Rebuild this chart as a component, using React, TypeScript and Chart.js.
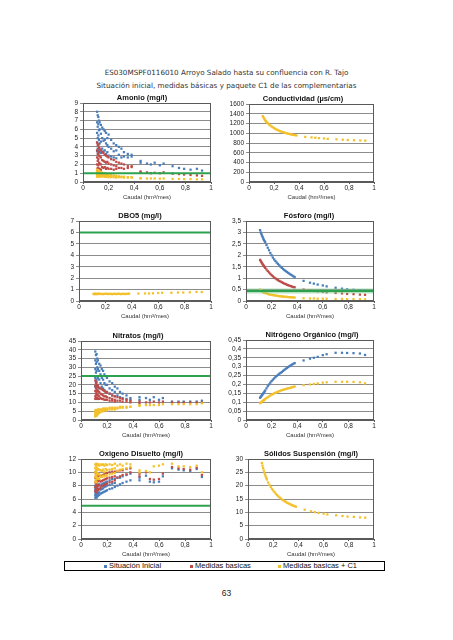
import React, { useEffect, useRef } from "react";
import { Chart, registerables } from "chart.js";

Chart.register(...registerables);

// ---------- texts ----------
const tituloLinea1 = "ES030MSPF0116010 Arroyo Salado hasta su confluencia con R. Tajo";
const tituloLinea2 = "Situación inicial, medidas básicas y paquete C1 de las complementarias";
const seriesNombres = ["Situación Inicial", "Medidas basicas", "Medidas basicas + C1"];
const ejeX = "Caudal (hm³/mes)";
const numeroPagina = "63";

// ---------- colours ----------
const AZUL = "#4A7EBB";
const ROJO = "#BE4B48";
const AMARILLO = "#F3C12C";
const VERDE = "#2CA24E";

// ---------- ticks ----------
const caudalTicks = [0, 0.2, 0.4, 0.6, 0.8, 1];
const amonioTicks = [0, 1, 2, 3, 4, 5, 6, 7, 8, 9];
const conductividadTicks = [0, 200, 400, 600, 800, 1000, 1200, 1400, 1600];
const dbo5Ticks = [0, 1, 2, 3, 4, 5, 6, 7];
const fosforoTicks = [0, 0.5, 1, 1.5, 2, 2.5, 3, 3.5];
const nitratosTicks = [0, 5, 10, 15, 20, 25, 30, 35, 40, 45];
const nitrogenoTicks = [0, 0.05, 0.1, 0.15, 0.2, 0.25, 0.3, 0.35, 0.4, 0.45];
const oxigenoTicks = [0, 2, 4, 6, 8, 10, 12];
const solidosTicks = [0, 5, 10, 15, 20, 25, 30];

// ---------- limits (green lines) ----------
const amonioLimite = 1;
const dbo5Limite = 6;
const fosforoLimite = 0.44;
const nitratosLimite = 25;
const oxigenoLimite = 5;

// ---------- caudal values ----------
const caudalCurva = [
  0.11, 0.115, 0.12, 0.125, 0.13, 0.135, 0.14, 0.145, 0.15, 0.16,
  0.17, 0.18, 0.19, 0.2, 0.21, 0.22, 0.23, 0.24, 0.25, 0.26,
  0.27, 0.28, 0.29, 0.3, 0.31, 0.32, 0.33, 0.34, 0.35, 0.36,
  0.37, 0.38,
  0.45, 0.5, 0.53, 0.56, 0.6, 0.63, 0.7, 0.75, 0.79, 0.84, 0.89, 0.93,
];

const caudalNube = [
  0.11, 0.11, 0.11, 0.11, 0.11,
  0.115, 0.115, 0.115, 0.115,
  0.12, 0.12, 0.12, 0.12, 0.12,
  0.125, 0.125, 0.125, 0.125,
  0.13, 0.13, 0.13, 0.13,
  0.14, 0.14, 0.14, 0.14,
  0.15, 0.15, 0.15,
  0.16, 0.16, 0.16,
  0.17, 0.17, 0.17,
  0.18, 0.18, 0.18,
  0.19, 0.19, 0.19,
  0.2, 0.2, 0.2,
  0.22, 0.22, 0.22,
  0.24, 0.24, 0.24,
  0.26, 0.26, 0.26,
  0.28, 0.28,
  0.3, 0.3,
  0.32, 0.32,
  0.35, 0.35,
  0.38, 0.38,
  0.45, 0.45, 0.5, 0.53, 0.56, 0.6, 0.63, 0.7, 0.75, 0.79, 0.84, 0.89, 0.93,
];

// ---------- Amonio ----------
const amonioSituacion = [
  8.0, 6.8, 5.6, 4.5, 3.5,
  7.6, 6.3, 5.0, 3.8,
  7.4, 6.6, 5.3, 4.2, 3.2,
  7.0, 5.9, 4.8, 3.6,
  6.8, 6.0, 4.4, 3.4,
  6.5, 5.5, 4.6, 3.3,
  6.2, 5.0, 3.8,
  6.0, 4.7, 3.5,
  5.8, 4.8, 3.6,
  5.6, 4.4, 3.2,
  5.0, 4.2, 3.4,
  5.4, 4.0, 3.0,
  4.8, 3.8, 2.9,
  4.4, 3.5, 2.8,
  4.2, 3.6, 2.7,
  4.0, 3.1,
  3.8, 2.8,
  3.4, 2.9,
  3.2, 2.8,
  3.1, 2.9,
  2.4, 2.2, 2.1, 2.0, 2.2, 1.9, 2.1, 1.8, 1.6, 1.5, 1.4, 1.5, 1.3,
];
const amonioMedidas = [
  4.5, 3.6, 2.8, 2.0, 1.4,
  4.2, 3.2, 2.4, 1.6,
  4.3, 3.4, 2.6, 1.9, 1.3,
  3.9, 3.0, 2.2, 1.5,
  3.8, 2.9, 2.1, 1.5,
  3.6, 2.8, 2.0, 1.4,
  3.4, 2.5, 1.7,
  3.3, 2.4, 1.6,
  3.1, 2.3, 1.7,
  3.0, 2.2, 1.5,
  2.9, 2.3, 1.6,
  2.8, 2.1, 1.5,
  2.6, 2.0, 1.5,
  2.5, 1.9, 1.4,
  2.3, 1.8, 1.5,
  2.2, 1.6,
  2.1, 1.6,
  2.0, 1.5,
  1.8, 1.6,
  1.8, 1.7,
  1.2, 1.1, 1.1, 1.0, 1.05, 1.0, 1.1, 0.95, 0.9, 0.85, 0.8, 0.75, 0.7,
];
const amonioC1 = [
  1.4, 1.2, 1.0, 0.8, 0.6,
  1.3, 1.1, 0.9, 0.7,
  1.35, 1.15, 0.95, 0.75, 0.6,
  1.25, 1.05, 0.85, 0.65,
  1.2, 1.0, 0.8, 0.65,
  1.1, 0.95, 0.8, 0.6,
  1.05, 0.85, 0.65,
  1.0, 0.8, 0.65,
  0.95, 0.8, 0.6,
  0.9, 0.75, 0.6,
  0.9, 0.7, 0.6,
  0.85, 0.7, 0.55,
  0.8, 0.65, 0.55,
  0.75, 0.65, 0.55,
  0.7, 0.6, 0.5,
  0.65, 0.55,
  0.6, 0.55,
  0.6, 0.5,
  0.55, 0.5,
  0.55, 0.5,
  0.45, 0.4, 0.4, 0.4, 0.4, 0.38, 0.4, 0.35, 0.35, 0.33, 0.33, 0.3, 0.3,
];

// ---------- Conductividad ----------
const conductividadC1 = [
  1350, 1330, 1305, 1285, 1265, 1248, 1232, 1218, 1205, 1180,
  1160, 1140, 1122, 1105, 1090, 1077, 1065, 1053, 1042, 1032,
  1023, 1015, 1007, 1000, 993, 987, 981, 975, 970, 965,
  960, 955,
  925, 915, 908, 900, 893, 885, 875, 868, 862, 857, 852, 848,
];

// ---------- DBO5 ----------
const dbo5C1 = [
  0.62, 0.6, 0.64, 0.61, 0.63, 0.6, 0.62, 0.64, 0.61, 0.63,
  0.62, 0.6, 0.63, 0.62, 0.64, 0.61, 0.62, 0.63, 0.6, 0.62,
  0.63, 0.61, 0.62, 0.64, 0.62, 0.6, 0.63, 0.62, 0.61, 0.63,
  0.62, 0.64,
  0.65, 0.66, 0.66, 0.67, 0.7, 0.72, 0.72, 0.74, 0.74, 0.76, 0.8, 0.78,
];

// ---------- Fósforo ----------
const fosforoSituacion = [
  3.1, 3.0, 2.93, 2.86, 2.8, 2.73, 2.67, 2.62, 2.57, 2.45,
  2.33, 2.22, 2.1, 2.0, 1.9, 1.82, 1.75, 1.68, 1.62, 1.56,
  1.5, 1.45, 1.4, 1.35, 1.31, 1.27, 1.23, 1.19, 1.15, 1.12,
  1.08, 1.05,
  0.88, 0.8, 0.76, 0.72, 0.68, 0.64, 0.58, 0.54, 0.51, 0.49, 0.47, 0.45,
];
const fosforoMedidas = [
  1.8, 1.75, 1.7, 1.65, 1.61, 1.57, 1.53, 1.49, 1.45, 1.38,
  1.31, 1.25, 1.19, 1.13, 1.08, 1.03, 0.99, 0.95, 0.91, 0.88,
  0.85, 0.82, 0.79, 0.76, 0.74, 0.71, 0.69, 0.67, 0.65, 0.63,
  0.61, 0.6,
  0.5, 0.46, 0.44, 0.42, 0.4, 0.38, 0.35, 0.33, 0.31, 0.3, 0.28, 0.27,
];
const fosforoC1 = [
  0.5, 0.47, 0.45, 0.43, 0.41, 0.39, 0.37, 0.36, 0.35, 0.33,
  0.31, 0.29, 0.28, 0.27, 0.26, 0.25, 0.24, 0.23, 0.22, 0.21,
  0.21, 0.2, 0.19, 0.19, 0.18, 0.18, 0.17, 0.17, 0.16, 0.16,
  0.16, 0.15,
  0.12, 0.11, 0.11, 0.1, 0.1, 0.1, 0.09, 0.09, 0.08, 0.08, 0.08, 0.07,
];

// ---------- Nitratos ----------
const nitratosSituacion = [
  39, 34, 29, 24, 19,
  37, 32, 27, 22,
  37.5, 33, 28, 23, 18,
  35, 30, 25, 20,
  34, 29, 24, 19,
  32, 28, 23, 18,
  31, 26, 21,
  29, 24, 19,
  28, 23, 18,
  26, 21, 17,
  25, 20, 16,
  24, 20, 16,
  22, 18, 15,
  21, 17, 14,
  19, 16, 13.5,
  18, 14,
  16, 13,
  15, 12.5,
  14, 12,
  12.5, 11.5,
  13, 11.5, 12.5, 11.5, 13, 11.5, 12.5, 10.5, 10.5, 10.5, 10.5, 10.5, 11,
];
const nitratosMedidas = [
  22.5, 19.5, 16.5, 13.5, 12,
  21, 18, 15, 12.5,
  21.5, 19, 16, 14, 12,
  20, 17, 14.5, 12.5,
  19.5, 16.5, 14, 12,
  18.5, 16, 13.5, 12,
  18, 15, 12.5,
  17.5, 14.5, 12,
  17, 14, 12,
  16.5, 13.5, 11.5,
  16, 13.5, 11.5,
  15.5, 13, 11.5,
  15, 12.5, 11,
  14, 12, 11,
  13.5, 11.5, 10.5,
  13, 11,
  12.5, 11,
  12, 10.5,
  11.5, 10.5,
  11, 10,
  10.5, 9.5, 10, 10, 10.5, 10, 10.5, 10, 10, 10, 10, 10, 10,
];
const nitratosC1 = [
  5.5, 4.5, 3.5, 2.5, 2.0,
  5.5, 4.5, 3.5, 2.5,
  5.5, 5.0, 4.0, 3.0, 2.5,
  5.5, 4.5, 3.5, 3.0,
  6.0, 5.0, 4.0, 3.5,
  6.0, 5.0, 4.5, 4.0,
  6.0, 5.0, 4.5,
  6.0, 5.5, 5.0,
  6.5, 5.5, 5.0,
  6.5, 6.0, 5.5,
  6.5, 6.0, 5.5,
  6.5, 6.0, 5.5,
  7.0, 6.5, 6.0,
  7.0, 6.5, 6.0,
  7.0, 6.5, 6.0,
  7.0, 6.5,
  7.5, 7.0,
  7.5, 7.0,
  7.5, 7.0,
  7.5, 7.5,
  8.5, 8.0, 8.5, 8.5, 8.5, 8.5, 9, 9, 9, 9, 9, 9, 9.5,
];

// ---------- Nitrógeno orgánico ----------
const nitrogenoSituacion = [
  0.125, 0.13, 0.135, 0.14, 0.145, 0.15, 0.155, 0.16, 0.166, 0.178,
  0.19, 0.2, 0.21, 0.219, 0.227, 0.234, 0.241, 0.248, 0.254, 0.26,
  0.265, 0.27, 0.276, 0.282, 0.288, 0.293, 0.298, 0.303, 0.308, 0.312,
  0.316, 0.32,
  0.335, 0.345, 0.35, 0.355, 0.365, 0.37, 0.378, 0.378, 0.377, 0.376, 0.374, 0.366,
];
const nitrogenoC1 = [
  0.095, 0.098, 0.1, 0.103, 0.106, 0.109, 0.112, 0.115, 0.118, 0.123,
  0.128, 0.133, 0.138, 0.142, 0.146, 0.15, 0.153, 0.156, 0.159, 0.162,
  0.165, 0.168, 0.17, 0.172, 0.174, 0.176, 0.178, 0.18, 0.182, 0.184,
  0.186, 0.188,
  0.196, 0.2, 0.203, 0.206, 0.21, 0.212, 0.215, 0.215, 0.215, 0.214, 0.212, 0.206,
];

// ---------- Oxígeno disuelto ----------
const oxigenoSituacion = [
  8.0, 7.5, 7.0, 6.6, 6.2,
  7.8, 7.2, 6.8, 6.3,
  8.2, 7.6, 7.0, 6.6, 6.2,
  7.8, 7.3, 6.8, 6.4,
  8.0, 7.4, 6.9, 6.5,
  8.2, 7.5, 7.0, 6.6,
  8.0, 7.4, 6.8,
  8.2, 7.5, 6.9,
  8.3, 7.6, 7.0,
  8.4, 7.8, 7.1,
  8.5, 7.9, 7.2,
  8.6, 8.0, 7.3,
  8.8, 8.1, 7.5,
  9.0, 8.3, 7.6,
  9.0, 8.4, 7.8,
  9.2, 8.0,
  9.2, 8.2,
  9.4, 8.4,
  9.6, 8.6,
  9.8, 8.8,
  9.2, 8.8, 9.5, 8.6, 8.5, 8.6, 9.4, 10.6, 10.4, 10.3, 10.2, 10.5, 9.3,
];
const oxigenoMedidas = [
  10.0, 9.2, 8.5, 7.8, 7.2,
  9.6, 8.8, 8.0, 7.4,
  9.8, 9.0, 8.3, 7.6, 7.0,
  9.4, 8.6, 7.9, 7.3,
  9.5, 8.7, 8.0, 7.4,
  9.6, 8.8, 8.1, 7.5,
  9.4, 8.6, 7.7,
  9.5, 8.7, 7.9,
  9.6, 8.8, 8.0,
  9.7, 8.9, 8.1,
  9.8, 9.0, 8.2,
  9.9, 9.1, 8.3,
  10.0, 9.2, 8.5,
  10.1, 9.3, 8.6,
  10.1, 9.4, 8.8,
  10.2, 9.2,
  10.3, 9.4,
  10.3, 9.6,
  10.5, 9.7,
  10.6, 10.0,
  9.8, 9.4, 10.0, 9.0, 8.9, 9.0, 9.8, 10.8, 10.6, 10.5, 10.4, 10.7, 9.6,
];
const oxigenoC1 = [
  11.2, 10.6, 10.0, 9.3, 8.6,
  11.0, 10.3, 9.6, 8.9,
  11.3, 10.7, 10.0, 9.3, 8.5,
  11.1, 10.4, 9.7, 9.0,
  11.2, 10.5, 9.8, 9.1,
  11.0, 10.4, 9.7, 9.0,
  11.2, 10.3, 9.4,
  11.1, 10.2, 9.3,
  11.2, 10.4, 9.5,
  11.0, 10.1, 9.4,
  11.2, 10.5, 9.6,
  11.1, 10.3, 9.5,
  11.2, 10.4, 9.7,
  11.1, 10.5, 9.8,
  11.3, 10.6, 9.9,
  11.0, 10.2,
  11.2, 10.4,
  11.0, 10.5,
  11.3, 10.6,
  11.2, 10.8,
  10.3, 10.0, 10.2, 10.0, 10.9, 11.0, 11.2, 11.3, 10.9, 10.9, 10.8, 11.0, 10.0,
];

// ---------- Sólidos en suspensión ----------
const solidosC1 = [
  28.5, 27.5, 26.6, 25.7, 24.9, 24.2, 23.5, 22.9, 22.3, 21.2,
  20.3, 19.5, 18.8, 18.2, 17.6, 17.0, 16.5, 16.0, 15.6, 15.2,
  14.8, 14.5, 14.2, 13.9, 13.6, 13.4, 13.1, 12.9, 12.7, 12.5,
  12.3, 12.1,
  11.0, 10.4, 10.1, 9.8, 9.5, 9.2, 8.9, 8.6, 8.4, 8.3, 8.1, 8.0,
];

// ---------- panel definitions ----------
type Serie = { label: string; x: number[]; y: number[]; color: string };
type Panel = {
  titulo: string;
  L: number; T: number; R: number; B: number;
  canvasLeft: number; g: number;
  ticks: number[];
  series: Serie[];
  limite?: number;
  banda?: boolean;
};

const sSit = (x: number[], y: number[]): Serie => ({ label: seriesNombres[0], x, y, color: AZUL });
const sMed = (x: number[], y: number[]): Serie => ({ label: seriesNombres[1], x, y, color: ROJO });
const sC1 = (x: number[], y: number[]): Serie => ({ label: seriesNombres[2], x, y, color: AMARILLO });

const paneles: Panel[] = [
  {
    titulo: "Amonio (mg/l)", L: 83, T: 103, R: 211, B: 182, canvasLeft: 45, g: 28,
    ticks: amonioTicks, limite: amonioLimite,
    series: [sSit(caudalNube, amonioSituacion), sMed(caudalNube, amonioMedidas), sC1(caudalNube, amonioC1)],
  },
  {
    titulo: "Conductividad (µs/cm)", L: 249, T: 104, R: 374, B: 182, canvasLeft: 215, g: 17,
    ticks: conductividadTicks,
    series: [sC1(caudalCurva, conductividadC1)],
  },
  {
    titulo: "DBO5 (mg/l)", L: 79, T: 221, R: 211, B: 301, canvasLeft: 45, g: 24,
    ticks: dbo5Ticks, limite: dbo5Limite,
    series: [sC1(caudalCurva, dbo5C1)],
  },
  {
    titulo: "Fósforo (mg/l)", L: 246, T: 221, R: 374, B: 301, canvasLeft: 215, g: 29,
    ticks: fosforoTicks, limite: fosforoLimite, banda: true,
    series: [sSit(caudalCurva, fosforoSituacion), sMed(caudalCurva, fosforoMedidas), sC1(caudalCurva, fosforoC1)],
  },
  {
    titulo: "Nitratos (mg/l)", L: 81, T: 341, R: 211, B: 420, canvasLeft: 45, g: 20,
    ticks: nitratosTicks, limite: nitratosLimite,
    series: [sSit(caudalNube, nitratosSituacion), sMed(caudalNube, nitratosMedidas), sC1(caudalNube, nitratosC1)],
  },
  {
    titulo: "Nitrógeno Orgánico (mg/l)", L: 246, T: 340, R: 374, B: 420, canvasLeft: 215, g: 35,
    ticks: nitrogenoTicks,
    series: [sSit(caudalCurva, nitrogenoSituacion), sC1(caudalCurva, nitrogenoC1)],
  },
  {
    titulo: "Oxigeno Disuelto (mg/l)", L: 81, T: 459, R: 211, B: 539, canvasLeft: 45, g: 26,
    ticks: oxigenoTicks, limite: oxigenoLimite,
    series: [sSit(caudalNube, oxigenoSituacion), sMed(caudalNube, oxigenoMedidas), sC1(caudalNube, oxigenoC1)],
  },
  {
    titulo: "Sólidos Suspensión (mg/l)", L: 248, T: 459, R: 374, B: 539, canvasLeft: 215, g: 33,
    ticks: solidosTicks,
    series: [sC1(caudalCurva, solidosC1)],
  },
];

const NARROW = "'Liberation Sans Narrow', 'Arial Narrow', 'Liberation Sans', Arial, sans-serif";
const TITLE_H = 14;
const XAXIS_H = 20;

const fmt = (v: number) => String(Number(Number(v).toFixed(3))).replace(".", ",");

const plotBorder = {
  id: "plotBorder",
  afterDraw(chart: any) {
    const { ctx, chartArea } = chart;
    ctx.save();
    ctx.strokeStyle = "#5a5a5a";
    ctx.lineWidth = 1;
    const l = Math.round(chartArea.left) + 0.5;
    const t = Math.round(chartArea.top) + 0.5;
    const r = Math.round(chartArea.right) - 0.5;
    const b = Math.round(chartArea.bottom) - 0.5;
    ctx.strokeRect(l, t, r - l, b - t);
    ctx.restore();
  },
};

function MiniChart({ p }: { p: Panel }) {
  const ref = useRef<HTMLCanvasElement>(null);
  const W = p.R - p.canvasLeft + p.g;
  const top = p.T - TITLE_H;
  const H = p.B + XAXIS_H - top;
  const yW = p.L - p.canvasLeft;

  useEffect(() => {
    if (!ref.current) return;
    const datasets: any[] = [];
    if (p.limite !== undefined) {
      if (p.banda) {
        datasets.push({
          label: "banda",
          data: [{ x: 0, y: p.limite }, { x: 1, y: p.limite }],
          showLine: true, borderColor: "rgba(120,200,140,0.55)", borderWidth: 5,
          pointRadius: 0, order: 1,
        });
      }
      datasets.push({
        label: "limite",
        data: [{ x: 0, y: p.limite }, { x: 1, y: p.limite }],
        showLine: true, borderColor: VERDE, borderWidth: 2, pointRadius: 0, order: 0,
      });
    }
    p.series.forEach((s, i) => {
      datasets.push({
        label: s.label,
        data: s.x.map((x, j) => ({ x, y: s.y[j] })),
        backgroundColor: s.color,
        borderColor: s.color,
        borderWidth: 0,
        pointStyle: "rect",
        pointRadius: 1.6,
        order: 10 - i,
      });
    });

    const tickFont = { family: NARROW, size: 6.5, lineHeight: 1.2 };
    const chart = new Chart(ref.current, {
      type: "scatter",
      data: { datasets },
      options: {
        responsive: false,
        animation: false,
        devicePixelRatio: 1,
        layout: { padding: 0 },
        plugins: {
          legend: { display: false },
          tooltip: { enabled: false },
          title: {
            display: true,
            text: p.titulo,
            color: "#111",
            font: { family: NARROW, size: 7.5, weight: "bold", lineHeight: 1.2 },
            padding: { top: 4, bottom: 1 },
          },
        },
        scales: {
          x: {
            type: "linear",
            min: 0,
            max: 1,
            afterBuildTicks: (s: any) => { s.ticks = caudalTicks.map((v) => ({ value: v })); },
            afterFit: (s: any) => { s.height = XAXIS_H; },
            grid: { drawOnChartArea: false, drawTicks: true, tickLength: 2, color: "#5a5a5a" },
            border: { color: "#5a5a5a" },
            ticks: { padding: 0.5, font: tickFont, color: "#222", maxRotation: 0, autoSkip: false, callback: (v: any) => fmt(v) },
            title: {
              display: true, text: ejeX, color: "#333",
              font: { family: NARROW, size: 6, lineHeight: 1.2 },
              padding: { top: 0, bottom: 1.4 },
            },
          },
          y: {
            type: "linear",
            min: p.ticks[0],
            max: p.ticks[p.ticks.length - 1],
            afterBuildTicks: (s: any) => { s.ticks = p.ticks.map((v) => ({ value: v })); },
            afterFit: (s: any) => { s.width = yW; },
            grid: { color: "#8c8c8c", lineWidth: 1, drawTicks: true, tickLength: 3 },
            border: { color: "#5a5a5a" },
            ticks: { padding: 2, font: tickFont, color: "#222", autoSkip: false, callback: (v: any) => fmt(v) },
          },
          yr: {
            type: "linear",
            position: "right",
            display: true,
            grid: { display: false, drawTicks: false },
            border: { display: false },
            ticks: { display: false },
            afterFit: (s: any) => { s.width = p.g; },
          },
        },
      },
      plugins: [plotBorder],
    } as any);
    return () => chart.destroy();
  }, []);

  return (
    <canvas
      ref={ref}
      width={W}
      height={H}
      style={{ position: "absolute", left: p.canvasLeft, top, width: W, height: H }}
    />
  );
}

const leyendaItems = [
  { label: seriesNombres[0], color: AZUL, mx: 105, tx: 109 },
  { label: seriesNombres[1], color: ROJO, mx: 191, tx: 195 },
  { label: seriesNombres[2], color: AMARILLO, mx: 279, tx: 283 },
];

export default function App() {
  return (
    <div style={{ position: "absolute", left: 0, top: 0, width: 453, height: 640, background: "#fff", overflow: "hidden" }}>
      <div
        style={{
          position: "absolute", left: 0, top: 65.5, width: 453, textAlign: "center",
          fontFamily: "'DejaVu Sans', sans-serif", fontSize: 7.2, lineHeight: "13px", color: "#333",
        }}
      >
        {tituloLinea1}
        <br />
        {tituloLinea2}
      </div>
      {paneles.map((p) => (
        <MiniChart key={p.titulo} p={p} />
      ))}
      <div
        style={{
          position: "absolute", left: 64, top: 561, width: 321, height: 10, boxSizing: "border-box",
          border: "1px solid #000",
        }}
      />
      {leyendaItems.map((it) => (
        <React.Fragment key={it.label}>
          <div style={{ position: "absolute", left: it.mx - 1, top: 565, width: 2.5, height: 2.5, background: it.color }} />
          <div
            style={{
              position: "absolute", left: it.tx, top: 561, height: 10, lineHeight: "10px",
              fontFamily: NARROW, fontSize: 7.5, color: "#111", whiteSpace: "nowrap",
            }}
          >
            {it.label}
          </div>
        </React.Fragment>
      ))}
      <div
        style={{
          position: "absolute", left: 0, top: 588, width: 453, textAlign: "center",
          fontFamily: "'Liberation Sans', Arial, sans-serif", fontSize: 8.5, lineHeight: "10px", color: "#222",
        }}
      >
        {numeroPagina}
      </div>
    </div>
  );
}
